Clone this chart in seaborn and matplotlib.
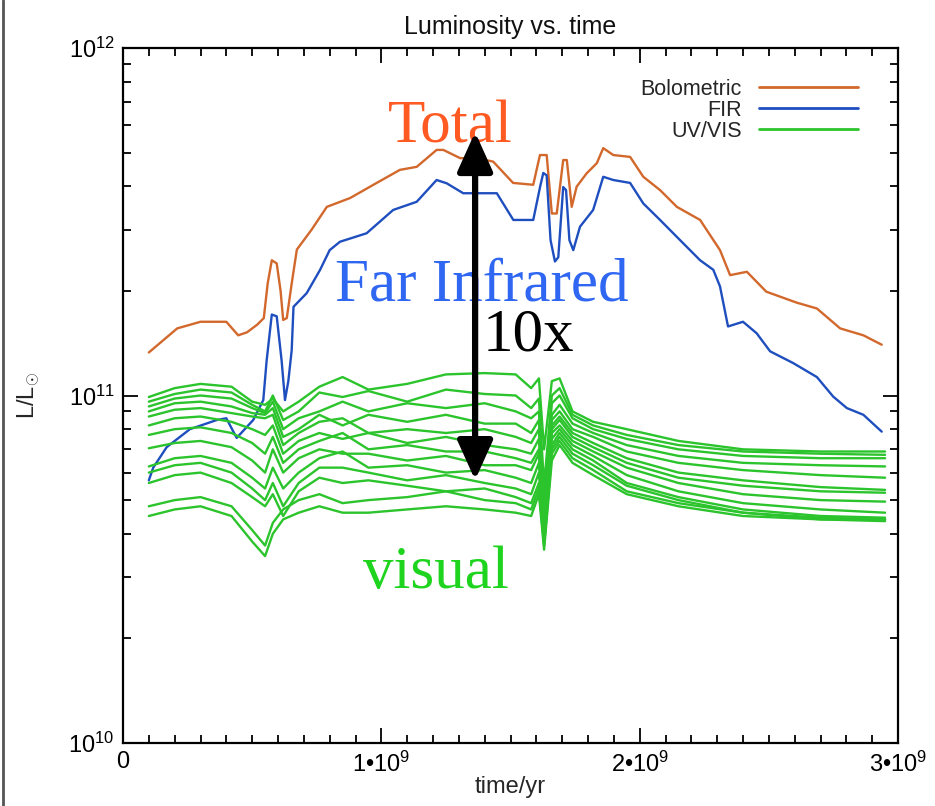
import matplotlib
matplotlib.use("Agg")
import matplotlib.pyplot as plt
import numpy as np
import pandas as pd
import seaborn as sns
from matplotlib.ticker import FixedLocator, MultipleLocator, FuncFormatter, LogLocator, NullFormatter
from matplotlib.lines import Line2D

sns.set_theme(style="ticks")
plt.rcParams['font.family'] = ['Liberation Sans', 'DejaVu Sans']
plt.rcParams['mathtext.fontset'] = 'custom'
plt.rcParams['mathtext.rm'] = 'Liberation Sans'
plt.rcParams['mathtext.it'] = 'Liberation Sans:italic'
plt.rcParams['mathtext.bf'] = 'Liberation Sans:bold'

# ---- data: time in Gyr ----
# Bolometric luminosity (units of 1e11 L_sun)
bol_t = [0.10, 0.21, 0.30, 0.40, 0.446, 0.48, 0.52, 0.545, 0.56, 0.576, 0.595, 0.61, 0.62,
         0.634, 0.653, 0.673, 0.73, 0.789, 0.879, 0.982, 1.072, 1.137, 1.214, 1.24, 1.305,
         1.369, 1.433, 1.51, 1.588, 1.614, 1.64, 1.66, 1.679, 1.704, 1.718, 1.737, 1.756,
         1.795, 1.834, 1.859, 1.898, 1.963, 2.014, 2.079, 2.144, 2.234, 2.311, 2.35, 2.415,
         2.49, 2.608, 2.686, 2.776, 2.866, 2.937]
bol_L = [1.33, 1.56, 1.63, 1.63, 1.49, 1.52, 1.60, 1.67, 2.10, 2.45, 2.40, 2.00, 1.65,
         1.67, 2.10, 2.63, 3.00, 3.49, 3.70, 4.09, 4.46, 4.55, 5.09, 5.09, 4.82,
         4.82, 4.71, 4.09, 4.04, 4.92, 4.92, 3.34, 3.34, 4.76, 4.76, 3.49, 3.99,
         4.36, 4.66, 5.15, 4.92, 4.86, 4.26, 3.90, 3.49, 3.20, 2.62, 2.22, 2.27,
         1.99, 1.85, 1.78, 1.56, 1.49, 1.40]

# Far-infrared luminosity (units of 1e11 L_sun)
fir_t = [0.10, 0.117, 0.169, 0.259, 0.363, 0.40, 0.44, 0.504, 0.543, 0.556, 0.576, 0.595,
         0.614, 0.627, 0.64, 0.653, 0.66, 0.711, 0.763, 0.80, 0.84, 0.943, 1.046, 1.137,
         1.214, 1.253, 1.317, 1.447, 1.511, 1.588, 1.615, 1.627, 1.64, 1.655, 1.672, 1.685,
         1.704, 1.715, 1.728, 1.743, 1.769, 1.82, 1.859, 1.898, 1.963, 2.014, 2.079, 2.144,
         2.234, 2.285, 2.311, 2.342, 2.40, 2.453, 2.505, 2.594, 2.686, 2.749, 2.802, 2.866,
         2.937]
fir_L = [0.57, 0.62, 0.71, 0.80, 0.85, 0.86, 0.755, 0.85, 0.97, 1.26, 1.71, 1.69,
         1.26, 0.97, 1.10, 1.35, 1.80, 1.97, 2.30, 2.62, 2.77, 2.93, 3.42, 3.61,
         4.17, 4.08, 3.82, 3.82, 3.20, 3.20, 4.00, 4.37, 4.30, 2.80, 2.43, 2.50,
         3.98, 3.90, 2.80, 2.62, 3.06, 3.42, 4.26, 4.17, 4.09, 3.57, 3.20, 2.86,
         2.45, 2.30, 2.06, 1.58, 1.63, 1.51, 1.34, 1.24, 1.13, 0.993, 0.92, 0.88,
         0.787]

# UV/visible luminosity for each viewing direction (units of 1e10 L_sun)
uv_t = [0.10, 0.20, 0.30, 0.42, 0.50, 0.55, 0.58, 0.62, 0.68, 0.76, 0.85, 0.95, 1.10, 1.25,
        1.40, 1.52, 1.58, 1.61, 1.63, 1.66, 1.69, 1.74, 1.82, 1.95, 2.15, 2.40, 2.70, 2.95]
uv_1 = [9.9, 10.5, 10.8, 10.6, 9.6, 9.4, 9.8, 9.0, 9.6, 10.6, 11.3, 10.4, 10.8, 11.5,
        11.6, 11.5, 10.5, 11.2, 7.0, 11.0, 11.2, 9.0, 8.4, 8.0, 7.4, 7.0, 6.9, 6.9]
uv_2 = [9.6, 10.1, 10.4, 10.2, 9.4, 9.0, 10.0, 8.5, 9.0, 10.2, 9.9, 10.3, 9.6, 10.4,
        10.1, 10.0, 9.2, 9.8, 5.5, 10.0, 10.5, 8.8, 8.2, 7.7, 7.2, 6.9, 6.8, 6.75]
uv_3 = [9.3, 9.8, 10.0, 9.8, 9.2, 8.9, 9.6, 8.0, 8.6, 9.0, 9.6, 9.0, 9.5, 9.2,
        9.5, 9.0, 8.6, 9.0, 5.0, 9.5, 10.0, 8.6, 8.0, 7.5, 7.0, 6.7, 6.6, 6.6]
uv_4 = [9.0, 9.5, 9.6, 9.3, 8.9, 8.8, 9.2, 7.6, 8.0, 8.8, 8.2, 8.8, 8.4, 8.8,
        8.3, 8.3, 7.8, 8.5, 4.5, 8.8, 9.4, 8.3, 7.8, 7.2, 6.7, 6.4, 6.3, 6.25]
uv_5 = [8.7, 9.1, 9.2, 8.9, 8.7, 8.6, 8.8, 7.2, 7.8, 8.4, 8.6, 7.8, 8.0, 7.8,
        8.0, 7.6, 7.3, 8.0, 4.3, 8.5, 9.0, 8.0, 7.6, 6.9, 6.4, 6.1, 5.9, 5.8]
uv_6 = [8.2, 8.6, 8.7, 8.4, 8.0, 7.7, 8.2, 6.8, 7.4, 7.8, 7.5, 7.8, 7.3, 7.6,
        7.2, 7.0, 6.8, 7.5, 4.2, 8.2, 8.7, 7.8, 7.3, 6.6, 6.0, 5.7, 5.45, 5.35]
uv_7 = [7.7, 8.0, 8.1, 7.8, 7.3, 6.8, 7.6, 6.4, 7.0, 7.4, 7.8, 7.0, 7.2, 6.9,
        6.9, 6.6, 6.4, 7.0, 4.0, 8.0, 8.5, 7.6, 7.1, 6.4, 5.8, 5.5, 5.3, 5.25]
uv_8 = [7.05, 7.3, 7.4, 7.1, 6.5, 6.0, 7.0, 6.0, 6.6, 7.0, 6.8, 6.8, 6.5, 6.7,
        6.3, 6.3, 6.1, 6.8, 3.9, 7.8, 8.2, 7.4, 6.9, 6.2, 5.6, 5.2, 5.0, 4.95]
uv_9 = [6.25, 6.6, 6.7, 6.4, 5.8, 5.4, 6.2, 5.4, 6.0, 6.6, 6.9, 6.2, 6.3, 6.0,
        6.1, 5.8, 5.6, 6.4, 3.8, 7.5, 8.0, 7.2, 6.7, 5.9, 5.3, 4.9, 4.7, 4.6]
uv_10 = [6.0, 6.3, 6.4, 6.0, 5.4, 5.0, 5.6, 4.8, 5.6, 6.2, 6.2, 6.0, 5.7, 5.9,
         5.6, 5.4, 5.2, 6.0, 3.75, 7.2, 7.8, 7.0, 6.5, 5.6, 5.1, 4.7, 4.5, 4.45]
uv_11 = [5.6, 5.9, 6.0, 5.6, 5.1, 4.8, 5.2, 4.5, 5.3, 5.8, 5.6, 5.7, 5.5, 5.3,
         5.4, 5.1, 4.9, 5.6, 3.8, 7.0, 7.6, 6.8, 6.3, 5.5, 5.0, 4.6, 4.4, 4.35]
uv_12 = [4.8, 5.0, 5.1, 4.8, 4.1, 3.7, 4.3, 4.7, 5.0, 5.2, 4.9, 5.0, 5.1, 5.3,
         5.0, 4.9, 4.7, 5.4, 3.7, 6.8, 7.4, 6.6, 6.1, 5.3, 4.9, 4.6, 4.45, 4.4]
uv_13 = [4.5, 4.7, 4.8, 4.5, 3.8, 3.45, 4.0, 4.4, 4.6, 4.8, 4.6, 4.6, 4.7, 4.8,
         4.7, 4.6, 4.5, 5.2, 3.6, 6.5, 7.2, 6.4, 5.9, 5.2, 4.8, 4.5, 4.4, 4.4]
uv_tracks = [uv_1, uv_2, uv_3, uv_4, uv_5, uv_6, uv_7, uv_8, uv_9, uv_10, uv_11, uv_12, uv_13]

band_names = ["Bolometric", "FIR", "UV/VIS"]
x_tick_labels = ["0", "1•10$^{9}$", "2•10$^{9}$", "3•10$^{9}$"]
y_tick_labels = ["$10^{10}$", "$10^{11}$", "$10^{12}$"]

# ---- long table for seaborn ----
frames = [
    pd.DataFrame({"time": np.array(bol_t) * 1e9, "L": np.array(bol_L) * 1e11,
                  "band": band_names[0], "track": "bol"}),
    pd.DataFrame({"time": np.array(fir_t) * 1e9, "L": np.array(fir_L) * 1e11,
                  "band": band_names[1], "track": "fir"}),
]
for i, tr in enumerate(uv_tracks):
    frames.append(pd.DataFrame({"time": np.array(uv_t) * 1e9, "L": np.array(tr) * 1e10,
                                "band": band_names[2], "track": f"uv{i}"}))
df = pd.concat(frames, ignore_index=True)

palette = {"Bolometric": "#d2682c", "FIR": "#1f4fbf", "UV/VIS": "#2cc42c"}

fig = plt.figure(figsize=(9.35, 8.06), dpi=100)
ax = fig.add_axes([123 / 935, 1 - 743 / 806, (898 - 123) / 935, (743 - 48) / 806])

sns.lineplot(data=df, x="time", y="L", hue="band", units="track", estimator=None,
             sort=False, palette=palette, hue_order=band_names, lw=1.7, ax=ax)

ax.set_yscale("log")
ax.set_xlim(0, 3e9)
ax.set_ylim(1e10, 1e12)

ax.xaxis.set_major_locator(FixedLocator([0, 1e9, 2e9, 3e9]))
ax.xaxis.set_minor_locator(MultipleLocator(1e8))
ax.xaxis.set_major_formatter(FuncFormatter(lambda v, p: x_tick_labels[int(round(v / 1e9))]))
ax.yaxis.set_major_locator(FixedLocator([1e10, 1e11, 1e12]))
ax.yaxis.set_minor_locator(LogLocator(base=10, subs=np.arange(2, 10)))
ax.yaxis.set_minor_formatter(NullFormatter())
ax.yaxis.set_major_formatter(FuncFormatter(lambda v, p: y_tick_labels[int(round(np.log10(v))) - 10]))

ax.tick_params(which="both", direction="in", top=True, right=True, colors="black",
               labelsize=17, width=1.3)
ax.tick_params(which="major", length=11, pad=6)
ax.tick_params(which="minor", length=6)
for s in ax.spines.values():
    s.set_linewidth(1.6)
    s.set_color("black")

ax.set_title("Luminosity vs. time", fontsize=18, pad=10, color="#111111")
ax.set_xlabel("time/yr", fontsize=17)
ax.set_ylabel(r"L/L$_{\odot}$", fontsize=17)
ax.xaxis.set_label_coords(0.5, -0.048)
ax.yaxis.set_label_coords(-0.105, 0.5)

# legend: text on the left, sample line on the right
handles, labels = ax.get_legend_handles_labels()
for h in handles:
    h.set_linewidth(2.0)
ax.legend(handles, labels, loc="upper right", frameon=False, markerfirst=False,
          handlelength=4.6, handletextpad=0.8, fontsize=15.5, labelspacing=0.0,
          borderpad=0, borderaxespad=0,
          bbox_to_anchor=(858 / 935, 1 - 79 / 806), bbox_transform=fig.transFigure)

# annotations
serif = ["Liberation Serif", "DejaVu Serif"]
ax.text(1.266e9, 5.36e11, "Total", color="#ff5a22", fontsize=44, family=serif,
        ha="center", va="baseline")
ax.text(0.821e9, 1.88e11, "Far Infrared", color="#2f66f2", fontsize=44, family=serif,
        ha="left", va="baseline")
ax.text(1.394e9, 1.35e11, "10x", color="black", fontsize=44, family=serif,
        ha="left", va="baseline")
ax.text(0.929e9, 2.79e10, "visual", color="#1fd41f", fontsize=44, family=serif,
        ha="left", va="baseline")
ax.annotate("", xy=(1.363e9, 5.73e11), xytext=(1.363e9, 5.71e10),
            arrowprops=dict(arrowstyle="<|-|>,head_length=1.0,head_width=0.45",
                            lw=4.5, color="black", mutation_scale=24,
                            shrinkA=0, shrinkB=0))

# thin frame line at the left edge of the canvas
fig.add_artist(Line2D([0.003, 0.003], [0, 1], transform=fig.transFigure,
                      color="#555555", lw=2))

fig.savefig("out.png", dpi=100)
